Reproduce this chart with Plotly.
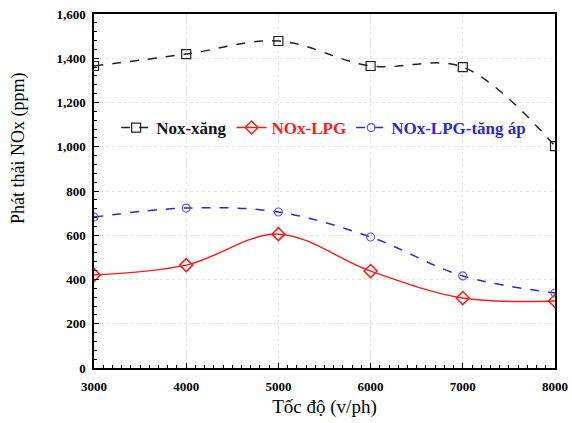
import plotly.graph_objects as go

speed = [3000, 4000, 5000, 6000, 7000, 8000]
nox_xang = [1365, 1419, 1478, 1365, 1360, 1003]
nox_lpg = [420, 465, 605, 438, 316, 303]
nox_lpg_tang_ap = [682, 723, 705, 592, 416, 339]

SERIF = "'Times New Roman', 'Liberation Serif', serif"

fig = go.Figure()
fig.add_trace(go.Scatter(
    x=speed, y=nox_xang, mode="lines+markers", line_shape="spline",
    name="<span style='color:#111111'>Nox-xăng</span>",
    line=dict(color="#222222", width=1.5, dash="dash"),
    marker=dict(symbol="square-open", size=9, color="#222222", line=dict(width=1.2)),
))
fig.add_trace(go.Scatter(
    x=speed, y=nox_lpg, mode="lines+markers", line_shape="spline",
    name="<span style='color:#ff1a1a'>NOx-LPG</span>",
    line=dict(color="#ff1a1a", width=1.5),
    marker=dict(symbol="diamond-open", size=10, color="#ff1a1a", line=dict(width=1.5)),
))
fig.add_trace(go.Scatter(
    x=speed, y=nox_lpg_tang_ap, mode="lines+markers", line_shape="spline",
    name="<span style='color:#2a2ad0'>NOx-LPG-tăng áp</span>",
    line=dict(color="#2a2ad0", width=1.5, dash="dash"),
    marker=dict(symbol="circle-open", size=8, color="#6a5acd", line=dict(width=1.2)),
))

axis_common = dict(
    showline=True, linecolor="black", linewidth=1.5, mirror=True,
    ticks="inside", ticklen=5, tickcolor="black",
    showgrid=True, gridcolor="#e4e4e4", griddash="dot", gridwidth=1,
    zeroline=False, automargin=False, ticklabeloverflow="allow",
    tickfont=dict(family=SERIF, size=13, color="black", weight="bold"),
)

fig.update_xaxes(
    range=[3000, 8000], tickvals=speed, ticktext=[str(v) for v in speed],
    minor=dict(ticks="inside", ticklen=3, tickcolor="black", dtick=100, showgrid=False),
    ticklabelstandoff=6,
    title=dict(text="Tốc độ (v/ph)", font=dict(family=SERIF, size=19, color="black"), standoff=6),
    **axis_common,
)
fig.update_yaxes(
    range=[0, 1600], dtick=200, tickformat=",d",
    minor=dict(ticks="inside", ticklen=3, tickcolor="black", dtick=40, showgrid=False),
    ticklabelstandoff=4,
    **axis_common,
)

fig.add_annotation(
    text="Phát thải NOx (ppm)", textangle=-90, showarrow=False,
    xref="paper", yref="paper", x=-0.165, y=0.621, xanchor="center", yanchor="middle",
    font=dict(family=SERIF, size=18, color="black"),
)

fig.update_layout(
    width=572, height=423,
    margin=dict(l=94, r=17, t=14, b=55),
    plot_bgcolor="white", paper_bgcolor="white",
    showlegend=True,
    legend=dict(
        orientation="h", x=0.048, y=0.678, xanchor="left", yanchor="middle",
        bgcolor="rgba(0,0,0,0)",
        font=dict(family=SERIF, size=17, color="black", weight="bold"),
        itemwidth=30, tracegroupgap=0,
    ),
)

fig.write_html(
    "out.html",
    config={"displayModeBar": False},
    post_script="document.documentElement.style.margin='0';document.body.style.margin='0';"
                "document.documentElement.style.overflow='hidden';document.body.style.overflow='hidden';",
)
